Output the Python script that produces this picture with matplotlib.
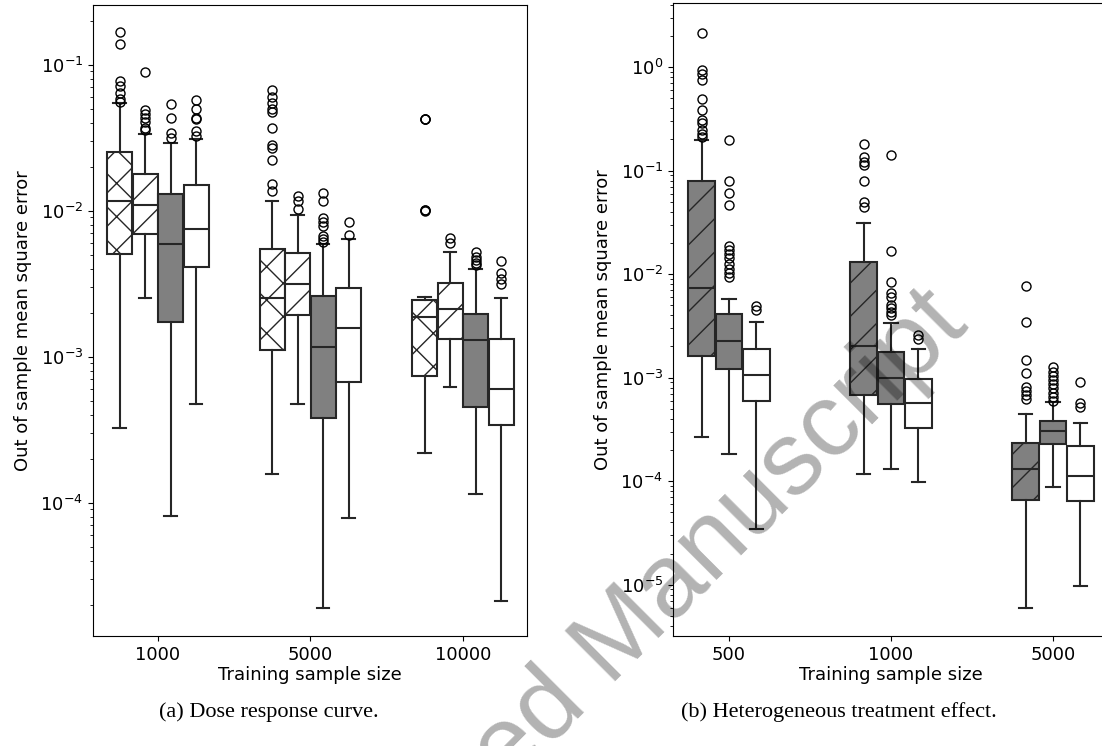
import matplotlib
matplotlib.use("Agg")
import matplotlib.pyplot as plt
import numpy as np

plt.rcParams['hatch.color'] = 'black'
plt.rcParams['hatch.linewidth'] = 1.0

# ---------------- Panel (a): Dose response curve ----------------
a_categories = ['1000', '5000', '10000']
a_series = ['S1', 'S2', 'S3', 'S4']
a_fill = ['white', 'white', '#808080', 'white']
a_hatch = ['x', '/', '', '']

# per series: values for each category
a_whislo = [[3.22e-4, 1.57e-4, 2.19e-4],
            [2.51e-3, 4.76e-4, 6.16e-4],
            [8.07e-5, 1.89e-5, 1.14e-4],
            [4.73e-4, 7.90e-5, 2.13e-5]]
a_q1 = [[5.03e-3, 1.11e-3, 7.38e-4],
        [6.93e-3, 1.94e-3, 1.33e-3],
        [1.72e-3, 3.78e-4, 4.50e-4],
        [4.09e-3, 6.75e-4, 3.39e-4]]
a_med = [[1.16e-2, 2.52e-3, 1.87e-3],
         [1.09e-2, 3.12e-3, 2.12e-3],
         [5.90e-3, 1.17e-3, 1.30e-3],
         [7.50e-3, 1.56e-3, 6.01e-4]]
a_q3 = [[2.52e-2, 5.50e-3, 2.45e-3],
        [1.79e-2, 5.16e-3, 3.18e-3],
        [1.29e-2, 2.61e-3, 1.96e-3],
        [1.49e-2, 2.97e-3, 1.32e-3]]
a_whishi = [[5.45e-2, 1.16e-2, 2.58e-3],
            [3.36e-2, 9.27e-3, 5.23e-3],
            [2.92e-2, 5.90e-3, 3.96e-3],
            [3.07e-2, 6.43e-3, 2.52e-3]]
a_fliers = [
    [[0.166, 0.138, 0.0776, 0.071, 0.064, 0.058, 0.0555],
     [0.0665, 0.0604, 0.0548, 0.0494, 0.0473, 0.0367, 0.0283, 0.027, 0.0222, 0.0151, 0.0137],
     [0.0424, 0.0422, 0.0426, 0.01007, 0.0101, 0.0100]],
    [[0.0894, 0.0488, 0.0457, 0.0429, 0.0402, 0.037, 0.0358],
     [0.0126, 0.0116, 0.0103],
     [0.0065, 0.00602]],
    [[0.0537, 0.0434, 0.0342, 0.0315],
     [0.0133, 0.0116, 0.00885, 0.0083, 0.0078, 0.00672, 0.00642, 0.00614],
     [0.00523, 0.0048, 0.00457, 0.00437, 0.00423]],
    [[0.0573, 0.0494, 0.0434, 0.0424, 0.0349, 0.0325],
     [0.0084, 0.00676],
     [0.00451, 0.00372, 0.00342, 0.00316]],
]

# ---------------- Panel (b): Heterogeneous treatment effect ----------------
b_categories = ['500', '1000', '5000']
b_series = ['T1', 'T2', 'T3']
b_fill = ['#808080', '#808080', 'white']
b_hatch = ['/', '', '']

b_whislo = [[2.68e-4, 1.18e-4, 5.92e-6],
            [1.83e-4, 1.32e-4, 8.85e-5],
            [3.47e-5, 9.86e-5, 9.75e-6]]
b_q1 = [[1.63e-3, 6.80e-4, 6.56e-5],
        [1.22e-3, 5.62e-4, 2.27e-4],
        [5.89e-4, 3.26e-4, 6.38e-5]]
b_med = [[7.30e-3, 2.02e-3, 1.32e-4],
         [2.26e-3, 9.95e-4, 3.06e-4],
         [1.05e-3, 5.73e-4, 1.13e-4]]
b_q3 = [[8.00e-2, 1.31e-2, 2.33e-4],
        [4.14e-3, 1.78e-3, 3.84e-4],
        [1.88e-3, 9.61e-4, 2.21e-4]]
b_whishi = [[0.199, 3.10e-2, 4.49e-4],
            [5.74e-3, 3.36e-3, 5.84e-4],
            [3.48e-3, 1.90e-3, 3.67e-4]]
b_fliers = [
    [[2.14, 0.931, 0.865, 0.756, 0.493, 0.383, 0.305, 0.286, 0.248, 0.226, 0.212],
     [0.182, 0.134, 0.122, 0.112, 0.080, 0.0502, 0.0442],
     [0.00774, 0.00343, 0.00149, 0.00112, 8.16e-4, 7.46e-4, 6.81e-4, 6.21e-4]],
    [[0.199, 0.080, 0.0612, 0.0467, 0.0188, 0.0172, 0.0157, 0.0143, 0.0124, 0.0113, 0.01035, 0.00928],
     [0.142, 0.0168, 0.00848, 0.00659, 0.00601, 0.00501, 0.0047, 0.0043, 0.00403],
     [1.26e-3, 1.13e-3, 1.03e-3, 9.44e-4, 8.61e-4, 7.87e-4, 7.18e-4, 6.56e-4, 6.0e-4]],
    [[0.00492, 0.00449],
     [0.00261, 0.00238],
     [9.03e-4, 5.67e-4, 5.19e-4]],
]

EDGE = '#262626'
LW = 1.5


def draw_panel(ax, cats, fills, hatches, whislo, q1, med, q3, whishi, fliers, width):
    n = len(fills)
    offsets = (np.arange(n) - (n - 1) / 2.0) * width
    for s in range(n):
        stats = []
        for c in range(len(cats)):
            stats.append(dict(med=med[s][c], q1=q1[s][c], q3=q3[s][c],
                              whislo=whislo[s][c], whishi=whishi[s][c],
                              fliers=fliers[s][c]))
        pos = np.arange(len(cats)) + offsets[s]
        bp = ax.bxp(stats, positions=pos, widths=width * 0.98, patch_artist=True,
                    manage_ticks=False,
                    boxprops=dict(edgecolor=EDGE, linewidth=LW),
                    medianprops=dict(color=EDGE, linewidth=LW),
                    whiskerprops=dict(color=EDGE, linewidth=LW),
                    capprops=dict(color=EDGE, linewidth=LW),
                    flierprops=dict(marker='o', markerfacecolor='none',
                                    markeredgecolor='black', markersize=6.5,
                                    markeredgewidth=1.0, linestyle='none'))
        for b in bp['boxes']:
            b.set_facecolor(fills[s])
            b.set_hatch(hatches[s])
    ax.set_xticks(np.arange(len(cats)))
    ax.set_xticklabels(cats)
    ax.set_yscale('log')
    ax.set_xlabel('Training sample size', fontsize=13, labelpad=2)
    ax.set_ylabel('Out of sample mean square error', fontsize=13, labelpad=6)
    ax.tick_params(axis='both', labelsize=13)


fig = plt.figure(figsize=(11.02, 7.46), dpi=100)

ax1 = fig.add_axes([93 / 1102, 1 - 636 / 746, 434 / 1102, 631 / 746])
draw_panel(ax1, a_categories, a_fill, a_hatch, a_whislo, a_q1, a_med, a_q3,
           a_whishi, a_fliers, 0.167)
ax1.set_xlim(-0.425, 2.42)
ax1.set_ylim(1.22e-5, 0.256)

ax2 = fig.add_axes([673 / 1102, 1 - 636 / 746, 436 / 1102, 633 / 746])
draw_panel(ax2, b_categories, b_fill, b_hatch, b_whislo, b_q1, b_med, b_q3,
           b_whishi, b_fliers, 0.168)
ax2.set_xlim(-0.346, 2.346)
ax2.set_ylim(3.2e-6, 4.15)

fig.text(269 / 1102, 1 - 712 / 746, '(a) Dose response curve.',
         family='Liberation Serif', fontsize=16, ha='center', va='center')
fig.text(839 / 1102, 1 - 712 / 746, '(b) Heterogeneous treatment effect.',
         family='Liberation Serif', fontsize=16, ha='center', va='center')

fig.text(608 / 1102, 1 - 652 / 746, 'Accepted Manuscript', family='Liberation Sans',
         fontsize=75, color='black', alpha=0.3, rotation=45,
         ha='center', va='center', rotation_mode='anchor', zorder=100)

fig.savefig('out.png', dpi=100)
